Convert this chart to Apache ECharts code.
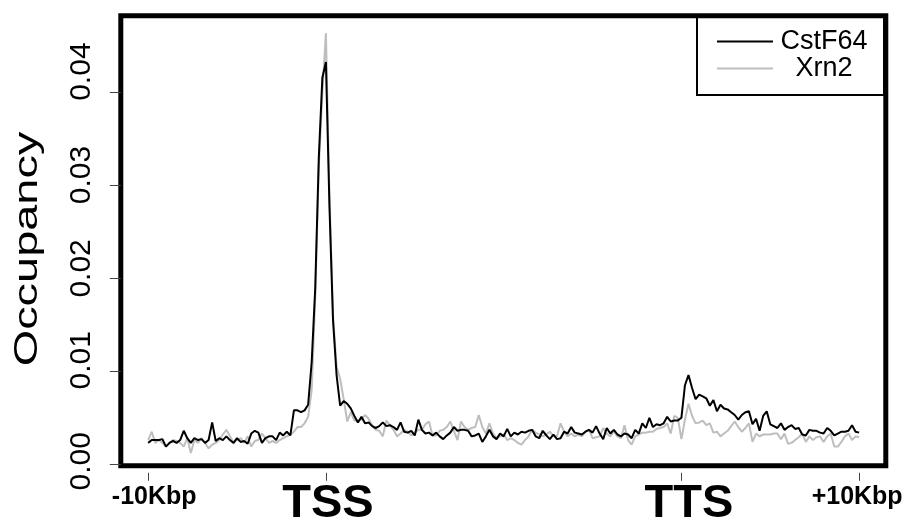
<!DOCTYPE html>
<html>
<head>
<meta charset="utf-8">
<script src="https://cdn.jsdelivr.net/npm/echarts@6/dist/echarts.min.js"></script>
<style>
html,body{margin:0;padding:0;background:#fff;}
#chart{width:910px;height:522px;}
</style>
</head>
<body>
<div id="chart"></div>
<script>
// Position index: 0 = -10Kbp, 50 = TSS, 150 = TTS, 200 = +10Kbp
const seriesNames = ['CstF64', 'Xrn2'];
const xTickValues = [0, 50, 150, 200];
const xTickLabels = ['-10Kbp', 'TSS', 'TTS', '+10Kbp'];
const yTickValues = [0, 0.01, 0.02, 0.03, 0.04];
const yTickLabels = ['0.00', '0.01', '0.02', '0.03', '0.04'];

const cstf64 = [
0.0023,0.0026,0.0026,0.0026,0.0027,0.0019,0.0023,0.0025,0.0023,0.0026,
0.0036,0.0028,0.0023,0.0028,0.0026,0.0027,0.0023,0.0026,0.0045,0.0025,
0.0028,0.0026,0.0030,0.0026,0.0023,0.0028,0.0024,0.0025,0.0022,0.0033,
0.0036,0.0034,0.0023,0.0028,0.0030,0.0030,0.0026,0.0034,0.0031,0.0035,
0.0031,0.0058,0.0058,0.0056,0.0058,0.0064,0.0110,0.0190,0.0330,0.0416,
0.0433,0.0277,0.0155,0.0096,0.0063,0.0068,0.0065,0.0060,0.0052,0.0045,
0.0051,0.0044,0.0045,0.0041,0.0039,0.0041,0.0045,0.0041,0.0042,0.0040,
0.0037,0.0045,0.0035,0.0034,0.0036,0.0031,0.0048,0.0037,0.0033,0.0034,
0.0031,0.0034,0.0030,0.0027,0.0031,0.0034,0.0040,0.0036,0.0037,0.0037,
0.0036,0.0030,0.0031,0.0033,0.0024,0.0030,0.0037,0.0030,0.0027,0.0033,
0.0030,0.0038,0.0030,0.0034,0.0032,0.0035,0.0034,0.0036,0.0037,0.0030,
0.0028,0.0036,0.0031,0.0027,0.0032,0.0027,0.0028,0.0035,0.0033,0.0040,
0.0034,0.0033,0.0032,0.0035,0.0037,0.0034,0.0041,0.0033,0.0027,0.0039,
0.0033,0.0037,0.0032,0.0030,0.0033,0.0032,0.0028,0.0037,0.0033,0.0044,
0.0039,0.0050,0.0040,0.0043,0.0042,0.0044,0.0051,0.0046,0.0047,0.0047,
0.0050,0.0085,0.0096,0.0082,0.0070,0.0075,0.0073,0.0071,0.0063,0.0069,
0.0057,0.0064,0.0060,0.0059,0.0056,0.0053,0.0048,0.0053,0.0056,0.0057,
0.0043,0.0049,0.0036,0.0052,0.0057,0.0043,0.0041,0.0039,0.0044,0.0037,
0.0040,0.0042,0.0038,0.0039,0.0032,0.0031,0.0037,0.0036,0.0036,0.0034,
0.0033,0.0039,0.0036,0.0031,0.0033,0.0035,0.0035,0.0036,0.0042,0.0035,
0.0034
];

const xrn2 = [
0.0026,0.0035,0.0023,0.0026,0.0023,0.0019,0.0023,0.0026,0.0025,0.0023,
0.0019,0.0028,0.0012,0.0026,0.0023,0.0028,0.0023,0.0017,0.0021,0.0023,
0.0026,0.0032,0.0037,0.0030,0.0023,0.0026,0.0028,0.0023,0.0030,0.0019,
0.0025,0.0026,0.0033,0.0028,0.0023,0.0025,0.0023,0.0026,0.0028,0.0030,
0.0032,0.0035,0.0040,0.0040,0.0044,0.0051,0.0080,0.0180,0.0320,0.0400,
0.0464,0.0290,0.0160,0.0105,0.0092,0.0070,0.0046,0.0056,0.0047,0.0047,
0.0048,0.0053,0.0049,0.0042,0.0037,0.0036,0.0030,0.0047,0.0042,0.0037,
0.0030,0.0033,0.0037,0.0035,0.0031,0.0034,0.0037,0.0037,0.0043,0.0046,
0.0031,0.0031,0.0036,0.0037,0.0040,0.0046,0.0036,0.0026,0.0046,0.0040,
0.0037,0.0039,0.0040,0.0053,0.0040,0.0033,0.0044,0.0033,0.0028,0.0030,
0.0032,0.0026,0.0028,0.0026,0.0023,0.0021,0.0026,0.0030,0.0037,0.0034,
0.0032,0.0030,0.0032,0.0035,0.0030,0.0030,0.0044,0.0035,0.0030,0.0033,
0.0030,0.0032,0.0030,0.0035,0.0037,0.0028,0.0029,0.0030,0.0039,0.0033,
0.0030,0.0035,0.0030,0.0028,0.0042,0.0026,0.0021,0.0030,0.0032,0.0034,
0.0034,0.0035,0.0035,0.0038,0.0039,0.0040,0.0044,0.0033,0.0052,0.0050,
0.0027,0.0048,0.0065,0.0052,0.0044,0.0045,0.0047,0.0042,0.0044,0.0034,
0.0035,0.0030,0.0033,0.0036,0.0041,0.0046,0.0040,0.0035,0.0039,0.0044,
0.0024,0.0033,0.0030,0.0032,0.0032,0.0032,0.0033,0.0033,0.0027,0.0033,
0.0022,0.0023,0.0026,0.0029,0.0033,0.0024,0.0030,0.0026,0.0029,0.0030,
0.0024,0.0030,0.0033,0.0019,0.0019,0.0024,0.0030,0.0033,0.0026,0.0030,
0.0029
];

const chart = echarts.init(document.getElementById('chart'), null, {renderer: 'canvas'});

const xRichKeys = ['a', 'b', 'c', 'd'];
const yRichKeys = ['y0', 'y1', 'y2', 'y3', 'y4'];
function nearestIndex(arr, v) {
  let best = 0;
  for (let i = 1; i < arr.length; i++) {
    if (Math.abs(arr[i] - v) < Math.abs(arr[best] - v)) best = i;
  }
  return best;
}

const option = {
  backgroundColor: '#ffffff',
  animation: false,
  grid: {
    left: 120.8, top: 15.8, right: 24.2, bottom: 56.2,
    outerBoundsMode: 'none', containLabel: false,
    show: true, borderColor: '#000', borderWidth: 5, backgroundColor: 'transparent'
  },
  legend: {
    data: seriesNames,
    orient: 'vertical',
    left: 697, top: 16,
    padding: [12, 14, 13, 20],
    itemWidth: 56, itemHeight: 2, itemGap: 0,
    icon: 'rect',
    borderColor: '#000', borderWidth: 2,
    formatter: '{n|{name}}',
    textStyle: {
      color: '#000',
      rich: { n: { width: 92, align: 'center', fontSize: 27, lineHeight: 28, fontFamily: 'Liberation Sans', color: '#000' } }
    }
  },
  xAxis: {
    type: 'value', min: -7.7, max: 207.5, offset: 7,
    axisLine: { show: false, onZero: false },
    splitLine: { show: false },
    axisTick: { show: true, customValues: xTickValues, length: 8, lineStyle: { color: '#444', width: 1 } },
    axisLabel: {
      customValues: xTickValues, margin: 8, color: '#000', verticalAlign: 'top',
      formatter: function (v) {
        const k = nearestIndex(xTickValues, v);
        return '{' + xRichKeys[k] + '|' + xTickLabels[k] + '}';
      },
      rich: {
        a: { fontSize: 25, fontWeight: 'bold', fontFamily: 'Liberation Sans', lineHeight: 30, color: '#000', padding: [2, 0, 0, 12] },
        b: { fontSize: 47, fontWeight: 'bold', fontFamily: 'Liberation Sans', lineHeight: 46, color: '#000', padding: [1, 0, 0, 4] },
        c: { fontSize: 47, fontWeight: 'bold', fontFamily: 'Liberation Sans', lineHeight: 46, color: '#000', padding: [1, 0, 0, 15] },
        d: { fontSize: 25, fontWeight: 'bold', fontFamily: 'Liberation Sans', lineHeight: 30, color: '#000', padding: [2, 4, 0, 0] }
      }
    }
  },
  yAxis: {
    type: 'value', min: -0.00017, max: 0.04827,
    axisLine: { show: false, onZero: false },
    splitLine: { show: false },
    axisTick: { show: true, customValues: yTickValues, length: 11, lineStyle: { color: '#444', width: 1 } },
    axisLabel: {
      customValues: yTickValues, rotate: 90, margin: 24, color: '#000',
      formatter: function (v) {
        const k = nearestIndex(yTickValues, v);
        return '{' + yRichKeys[k] + '|' + yTickLabels[k] + '}';
      },
      rich: {
        y0: { fontSize: 30, fontFamily: 'Liberation Sans', lineHeight: 30, color: '#000', padding: [0, 0, 0, 6] },
        y1: { fontSize: 30, fontFamily: 'Liberation Sans', lineHeight: 30, color: '#000', padding: [0, 0, 0, 22] },
        y2: { fontSize: 30, fontFamily: 'Liberation Sans', lineHeight: 30, color: '#000', padding: [0, 0, 0, 20] },
        y3: { fontSize: 30, fontFamily: 'Liberation Sans', lineHeight: 30, color: '#000', padding: [0, 0, 0, 21] },
        y4: { fontSize: 30, fontFamily: 'Liberation Sans', lineHeight: 30, color: '#000', padding: [0, 0, 0, 42] }
      }
    }
  },
  graphic: [{
    type: 'text',
    x: 27.5, y: 249,
    rotation: Math.PI / 2,
    scaleX: 1.38,
    style: {
      text: 'Occupancy',
      font: '34px "Liberation Sans"',
      fill: '#000',
      align: 'center', verticalAlign: 'middle',
      textAlign: 'center', textVerticalAlign: 'middle'
    }
  }],
  series: [
    {
      name: 'Xrn2', type: 'line', showSymbol: false, symbol: 'none',
      color: '#bebebe',
      lineStyle: { color: '#bebebe', width: 2 },
      data: xrn2.map(function (v, i) { return [i, v]; }),
      z: 2
    },
    {
      name: 'CstF64', type: 'line', showSymbol: false, symbol: 'none',
      color: '#000000',
      lineStyle: { color: '#000000', width: 2 },
      data: cstf64.map(function (v, i) { return [i, v]; }),
      z: 3
    }
  ]
};
chart.setOption(option);
</script>
</body>
</html>
